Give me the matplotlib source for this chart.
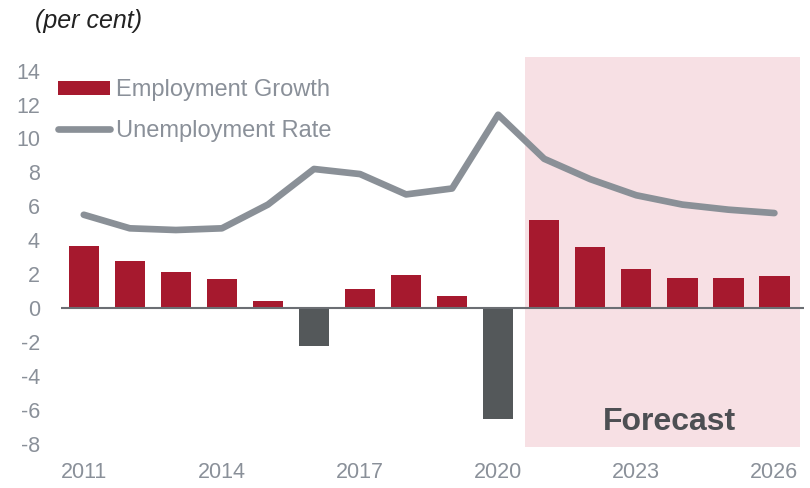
import matplotlib.pyplot as plt
from matplotlib.patches import Patch
from matplotlib.lines import Line2D

plt.rcParams['font.family'] = ['Liberation Sans', 'DejaVu Sans']

# data
years = list(range(2011, 2027))
employment_growth = [3.65, 2.8, 2.1, 1.7, 0.4, -2.25, 1.1, 1.95, 0.7, -6.55,
                     5.2, 3.6, 2.3, 1.75, 1.75, 1.9]
unemployment_rate = [5.5, 4.7, 4.6, 4.7, 6.1, 8.2, 7.9, 6.7, 7.05, 11.4,
                     8.8, 7.6, 6.65, 6.1, 5.8, 5.6]
tick_years = [2011, 2014, 2017, 2020, 2023, 2026]
y_ticks = list(range(-8, 15, 2))

RED = '#a6192e'
DARK = '#54585a'
GREY = '#8a9097'
TXT = '#8a9099'

fig = plt.figure(figsize=(8.1, 4.88), dpi=100)
ax = fig.add_axes([0.075, 0.084, 0.918, 0.799])

bar_colors = [RED if v >= 0 else DARK for v in employment_growth]
ax.bar(years, employment_growth, width=0.66, color=bar_colors, zorder=3)
ax.plot(years, unemployment_rate, color=GREY, lw=4.8, solid_capstyle='round',
        solid_joinstyle='round', zorder=2)

# forecast shading
ax.axvspan(2020.58, 2026.55, color='#f7e0e4', lw=0, zorder=0)
ax.axhline(0, color='#6b6e73', lw=1.5, zorder=4)

ax.set_xlim(2010.5, 2026.65)
ax.set_ylim(-8.2, 14.8)
ax.set_yticks(y_ticks)
ax.set_yticklabels([str(t) for t in y_ticks])
ax.set_xticks(tick_years)
ax.tick_params(length=0, labelsize=15.5, colors=TXT)
ax.tick_params(axis='y', pad=15)
ax.tick_params(axis='x', pad=11)
for s in ax.spines.values():
    s.set_visible(False)

fig.text(0.043, 0.957, '(per cent)', fontsize=18, style='italic', color='#222222',
         va='center', ha='left')
ax.text(2023.73, -6.7, 'Forecast', fontsize=23, fontweight='bold', color='#4d4f53',
        ha='center', va='center', zorder=5)

handles = [Patch(facecolor=RED, edgecolor='none'),
           Line2D([0], [0], color=GREY, lw=4.8, solid_capstyle='round')]
ax.legend(handles, ['Employment Growth', 'Unemployment Rate'], loc='upper left',
          bbox_to_anchor=(58 / 810, 1 - 79 / 488), bbox_transform=fig.transFigure,
          borderpad=0, borderaxespad=0, frameon=False, fontsize=17,
          labelcolor=TXT, handlelength=2.2, handleheight=0.55, handletextpad=0.25,
          labelspacing=0.8)

fig.savefig('out.png', dpi=100)
